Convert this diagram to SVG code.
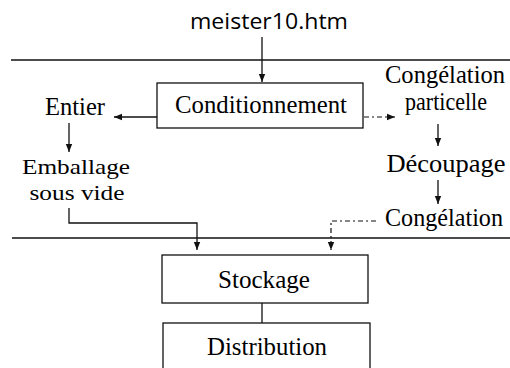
<svg xmlns="http://www.w3.org/2000/svg" width="510" height="368" viewBox="0 0 510 368">
<style>
.t{font-family:"Liberation Serif","Times New Roman",serif;font-size:24.5px;fill:#000;text-anchor:middle}
.e{font-size:22px}
.s{font-family:"Open Sans","Noto Sans","DejaVu Sans",sans-serif;font-size:22.5px;fill:#000;text-anchor:middle}
.b{fill:#fff;stroke:#111;stroke-width:1.3}
.l{fill:none;stroke:#111;stroke-width:1.3}
.d{fill:none;stroke:#111;stroke-width:1.2;stroke-dasharray:5 3 2 3}
</style>
<defs>
<marker id="ah" viewBox="0 0 8 8" refX="8" refY="4" markerWidth="8" markerHeight="8" markerUnits="userSpaceOnUse" orient="auto">
<path d="M0,0.8 L8,4 L0,7.2 Z" fill="#111"/>
</marker>
</defs>
<rect width="510" height="368" fill="#fff"/>
<text class="s" x="269" y="29" textLength="158" lengthAdjust="spacingAndGlyphs">meister10.htm</text>
<g id="separators">
<line class="l" x1="11" y1="60" x2="510" y2="60"/>
<line class="l" x1="12" y1="238" x2="510" y2="238"/>
</g>
<g id="connectors">
<line class="l" x1="262" y1="37" x2="262" y2="82" marker-end="url(#ah)"/>
<line class="l" x1="157" y1="117" x2="114" y2="117" marker-end="url(#ah)"/>
<line class="d" x1="364" y1="117" x2="395" y2="117" marker-end="url(#ah)"/>
<line class="l" x1="69" y1="123" x2="69" y2="152" marker-end="url(#ah)"/>
<line class="l" x1="438" y1="124" x2="438" y2="146" marker-end="url(#ah)"/>
<line class="l" x1="438" y1="180" x2="438" y2="204" marker-end="url(#ah)"/>
<polyline class="l" points="69,208 69,223 197,223 197,250" marker-end="url(#ah)"/>
<polyline class="d" points="376,221 331,221 331,250" marker-end="url(#ah)"/>
<line class="l" x1="262" y1="303" x2="262" y2="323"/>
</g>
<g id="conditionnement">
<rect class="b" x="157" y="83" width="206" height="45"/>
<text class="t" x="261" y="113" textLength="172" lengthAdjust="spacingAndGlyphs">Conditionnement</text>
</g>
<g id="entier">
<text class="t" x="75" y="115" textLength="60" lengthAdjust="spacingAndGlyphs">Entier</text>
</g>
<g id="congelation-partielle">
<text class="t" x="445" y="83" textLength="120" lengthAdjust="spacingAndGlyphs">Congélation</text>
<text class="t" x="446" y="110" textLength="82" lengthAdjust="spacingAndGlyphs">particelle</text>
</g>
<g id="emballage">
<text class="t e" x="76" y="174" textLength="108" lengthAdjust="spacingAndGlyphs">Emballage</text>
<text class="t e" x="77" y="200" textLength="95" lengthAdjust="spacingAndGlyphs">sous vide</text>
</g>
<g id="decoupage">
<text class="t" x="446" y="172" textLength="119" lengthAdjust="spacingAndGlyphs">Découpage</text>
</g>
<g id="congelation">
<text class="t" x="444" y="226" textLength="118" lengthAdjust="spacingAndGlyphs">Congélation</text>
</g>
<g id="stockage">
<rect class="b" x="162" y="255" width="206" height="48"/>
<text class="t" x="264" y="288" textLength="92" lengthAdjust="spacingAndGlyphs">Stockage</text>
</g>
<g id="distribution">
<rect class="b" x="163" y="323" width="207" height="60"/>
<text class="t" x="267" y="355" textLength="120" lengthAdjust="spacingAndGlyphs">Distribution</text>
</g>
</svg>
